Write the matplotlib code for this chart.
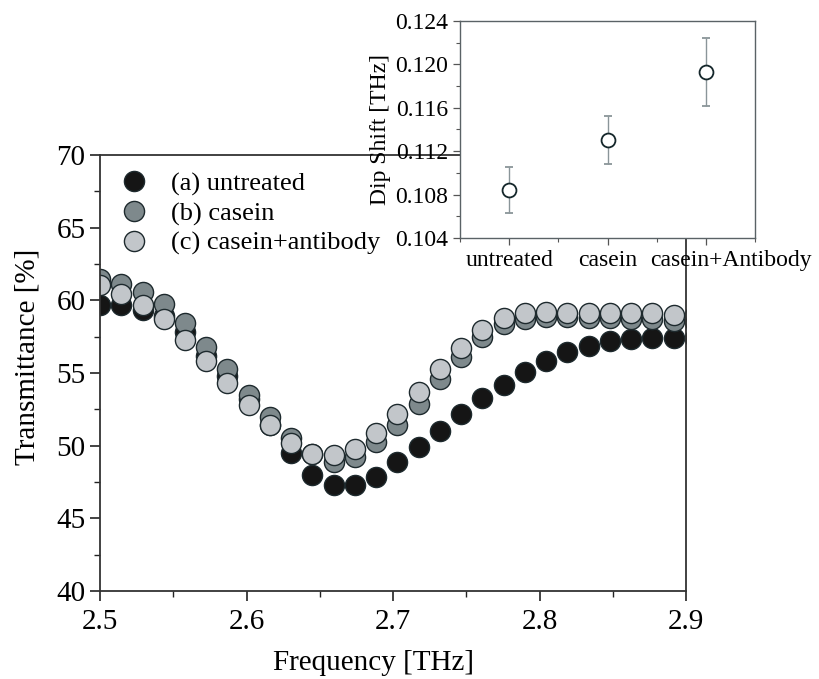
import matplotlib.pyplot as plt
from matplotlib.ticker import MultipleLocator
from matplotlib.transforms import ScaledTranslation

plt.rcParams['font.family'] = ['Liberation Serif', 'DejaVu Serif']

# transmittance spectra [%] vs frequency [THz]
freq = [2.5, 2.5145, 2.529, 2.5435, 2.558, 2.5725, 2.587, 2.6015, 2.616, 2.6305,
        2.645, 2.6595, 2.674, 2.6885, 2.703, 2.7175, 2.732, 2.7465, 2.761, 2.7755,
        2.79, 2.8045, 2.819, 2.8335, 2.848, 2.8625, 2.877, 2.8915, 2.906]
untreated = [59.7, 59.7, 59.35, 58.9, 57.85, 56.2, 54.8, 53.2, 51.4, 49.5,
             48.0, 47.3, 47.3, 47.85, 48.85, 49.9, 51.0, 52.15, 53.25, 54.2,
             55.1, 55.8, 56.45, 56.85, 57.2, 57.35, 57.4, 57.4, 57.4]
casein = [61.5, 61.15, 60.6, 59.75, 58.45, 56.8, 55.3, 53.5, 52.0, 50.5,
          49.4, 48.9, 49.25, 50.25, 51.4, 52.9, 54.6, 56.1, 57.5, 58.35,
          58.75, 58.85, 58.85, 58.8, 58.8, 58.75, 58.7, 58.6, 58.5]
casein_ab = [61.05, 60.45, 59.7, 58.7, 57.25, 55.85, 54.3, 52.8, 51.4, 50.15,
             49.45, 49.35, 49.8, 50.85, 52.15, 53.7, 55.3, 56.75, 57.95, 58.8,
             59.15, 59.2, 59.15, 59.15, 59.15, 59.15, 59.1, 59.0, 59.0]

# inset: dip shift
groups = ['untreated', 'casein', 'casein+Antibody']
shift = [0.1084, 0.1130, 0.1193]
shift_err = [0.0021, 0.0022, 0.0031]

fig = plt.figure(figsize=(8.2, 6.79), dpi=100)
ax = fig.add_axes([0.122, 0.1296, 0.7146, 0.6421])

edge = '#1e2a2e'
ax.plot(freq, untreated, 'o', ms=14.5, mfc='#151515', mec=edge, mew=1.0,
        label='(a) untreated')
ax.plot(freq, casein, 'o', ms=14.5, mfc='#7e898c', mec=edge, mew=1.0,
        label='(b) casein')
ax.plot(freq, casein_ab, 'o', ms=14.5, mfc='#c2c6ca', mec=edge, mew=1.0,
        label='(c) casein+antibody')

ax.set_xlim(2.5, 2.9)
ax.set_ylim(40, 70)
ax.xaxis.set_major_locator(MultipleLocator(0.1))
ax.xaxis.set_minor_locator(MultipleLocator(0.05))
ax.yaxis.set_major_locator(MultipleLocator(5))
ax.yaxis.set_minor_locator(MultipleLocator(2.5))
ax.tick_params(which='both', direction='out', labelsize=21, colors='#222222',
               labelcolor='black')
ax.tick_params(axis='x', which='major', pad=6)
ax.tick_params(which='major', length=7, width=1.2)
ax.tick_params(which='minor', length=4, width=1.0)
for s in ax.spines.values():
    s.set_color('#333333')
    s.set_linewidth(1.3)
ax.set_xlabel('Frequency [THz]', fontsize=21)
ax.set_ylabel('Transmittance [%]', fontsize=21)
ax.xaxis.set_label_coords(0.466, -0.135)
ax.yaxis.set_label_coords(-0.102, 0.537)

ax.legend(loc='upper left', bbox_to_anchor=(0.0, 1.0), frameon=False,
          fontsize=19, handletextpad=0.75, labelspacing=0.22,
          borderaxespad=0.25, handlelength=1.3)

# inset
ins = fig.add_axes([0.561, 0.6495, 0.3598, 0.3196])
xpos = list(range(len(groups)))
ins.errorbar(xpos, shift, yerr=shift_err, fmt='o', ms=10, mfc='white',
             mec='#14262a', mew=1.3, ecolor='#8a9599', elinewidth=1.0,
             capsize=3, capthick=1.0)
ins.set_xlim(-0.5, 2.5)
ins.set_ylim(0.104, 0.124)
ins.set_xticks(xpos)
ins.set_xticklabels(groups)
ins.xaxis.set_minor_locator(MultipleLocator(0.5))
ins.yaxis.set_major_locator(MultipleLocator(0.004))
ins.yaxis.set_minor_locator(MultipleLocator(0.002))
ins.yaxis.set_major_formatter(plt.FuncFormatter(lambda v, p: f'{v:.3f}'))
ins.tick_params(which='both', direction='out', labelsize=17, colors='#555555',
                labelcolor='black')
ins.tick_params(which='major', length=5, width=0.9)
ins.tick_params(which='minor', length=3, width=0.8)
for s in ins.spines.values():
    s.set_color('#5a6266')
    s.set_linewidth(1.0)
ins.set_ylabel('Dip Shift [THz]', fontsize=17, labelpad=3)

# last category label sits to the right of its tick in the original
last = ins.get_xticklabels()[-1]
last.set_transform(last.get_transform() + ScaledTranslation(0.25, 0, fig.dpi_scale_trans))

fig.savefig('out.png', dpi=100)
